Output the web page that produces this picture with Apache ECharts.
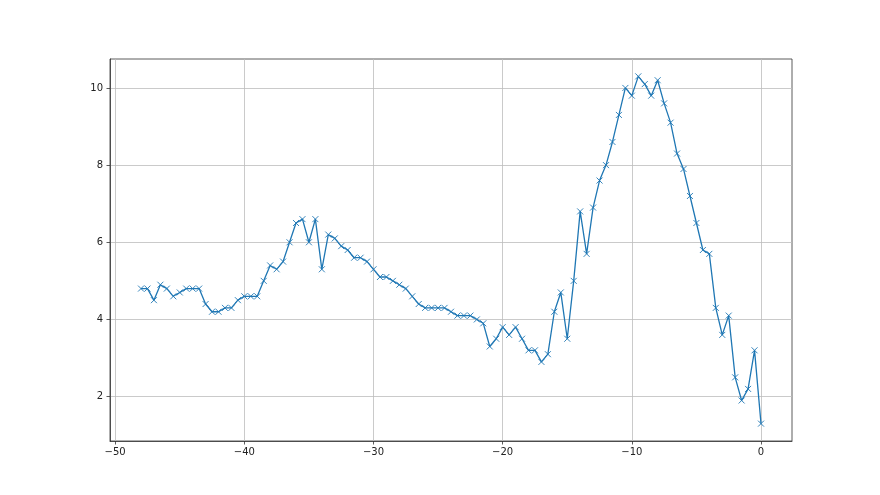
<!DOCTYPE html>
<html>
<head>
<meta charset="utf-8">
<script src="https://cdn.jsdelivr.net/npm/echarts@6/dist/echarts.min.js"></script>
<style>html,body{margin:0;padding:0;background:#fff;}#c{width:880px;height:495px;}</style>
</head>
<body>
<div id="c"></div>
<script>
var xValues = [-48,-47.5,-47,-46.5,-46,-45.5,-45,-44.5,-44,-43.5,-43,-42.5,-42,-41.5,-41,-40.5,-40,-39.5,-39,-38.5,-38,-37.5,-37,-36.5,-36,-35.5,-35,-34.5,-34,-33.5,-33,-32.5,-32,-31.5,-31,-30.5,-30,-29.5,-29,-28.5,-28,-27.5,-27,-26.5,-26,-25.5,-25,-24.5,-24,-23.5,-23,-22.5,-22,-21.5,-21,-20.5,-20,-19.5,-19,-18.5,-18,-17.5,-17,-16.5,-16,-15.5,-15,-14.5,-14,-13.5,-13,-12.5,-12,-11.5,-11,-10.5,-10,-9.5,-9,-8.5,-8,-7.5,-7,-6.5,-6,-5.5,-5,-4.5,-4,-3.5,-3,-2.5,-2,-1.5,-1,-0.5,0];
var yValues = [4.8,4.8,4.5,4.9,4.8,4.6,4.7,4.8,4.8,4.8,4.4,4.2,4.2,4.3,4.3,4.5,4.6,4.6,4.6,5.0,5.4,5.3,5.5,6.0,6.5,6.6,6.0,6.6,5.3,6.2,6.1,5.9,5.8,5.6,5.6,5.5,5.3,5.1,5.1,5.0,4.9,4.8,4.6,4.4,4.3,4.3,4.3,4.3,4.2,4.1,4.1,4.1,4.0,3.9,3.3,3.5,3.8,3.6,3.8,3.5,3.2,3.2,2.9,3.1,4.2,4.7,3.5,5.0,6.8,5.7,6.9,7.6,8.0,8.6,9.3,10.0,9.8,10.3,10.1,9.8,10.2,9.6,9.1,8.3,7.9,7.2,6.5,5.8,5.7,4.3,3.6,4.1,2.5,1.9,2.2,3.2,1.3];
var xTicks = [-50,-40,-30,-20,-10,0];
var yTicks = [2,4,6,8,10];

var pts = xValues.map(function(x,i){return [x, yValues[i]];});
function fmt(v){ return String(v).replace('-', '\u2212'); }

var chart = echarts.init(document.getElementById('c'), null, {renderer:'canvas'});
chart.setOption({
  backgroundColor:'#fff',
  animation:false,
  grid:{left:110, top:59, width:682, height:382, show:true, borderColor:'#333', borderWidth:0.8, backgroundColor:'transparent'},
  xAxis:{
    type:'value', min:-50.4, max:2.4,
    axisLine:{show:true, onZero:false, lineStyle:{color:'#333', width:0.8}},
    axisTick:{show:true, length:3.5, customValues:xTicks, lineStyle:{color:'#333', width:0.8}},
    axisLabel:{customValues:xTicks, color:'#222', fontFamily:'DejaVu Sans', fontSize:10, margin:6, formatter:fmt},
    splitLine:{show:true, lineStyle:{color:'#bdbdbd', width:0.8}}
  },
  yAxis:{
    type:'value', min:0.85, max:10.75,
    axisLine:{show:true, onZero:false, lineStyle:{color:'#333', width:0.8}},
    axisTick:{show:true, length:3.5, customValues:yTicks, lineStyle:{color:'#333', width:0.8}},
    axisLabel:{customValues:yTicks, color:'#222', fontFamily:'DejaVu Sans', fontSize:10, margin:7, formatter:fmt},
    splitLine:{show:true, lineStyle:{color:'#bdbdbd', width:0.8}}
  },
  series:[{
    type:'line', data:pts,
    lineStyle:{color:'#1f77b4', width:1.3},
    symbol:'path://M0,0L10,10M10,0L0,10',
    symbolSize:6,
    showAllSymbol:true,
    itemStyle:{color:'#1f77b4', borderColor:'#1f77b4', borderWidth:0.9},
    z:3
  }]
});
</script>
</body>
</html>
